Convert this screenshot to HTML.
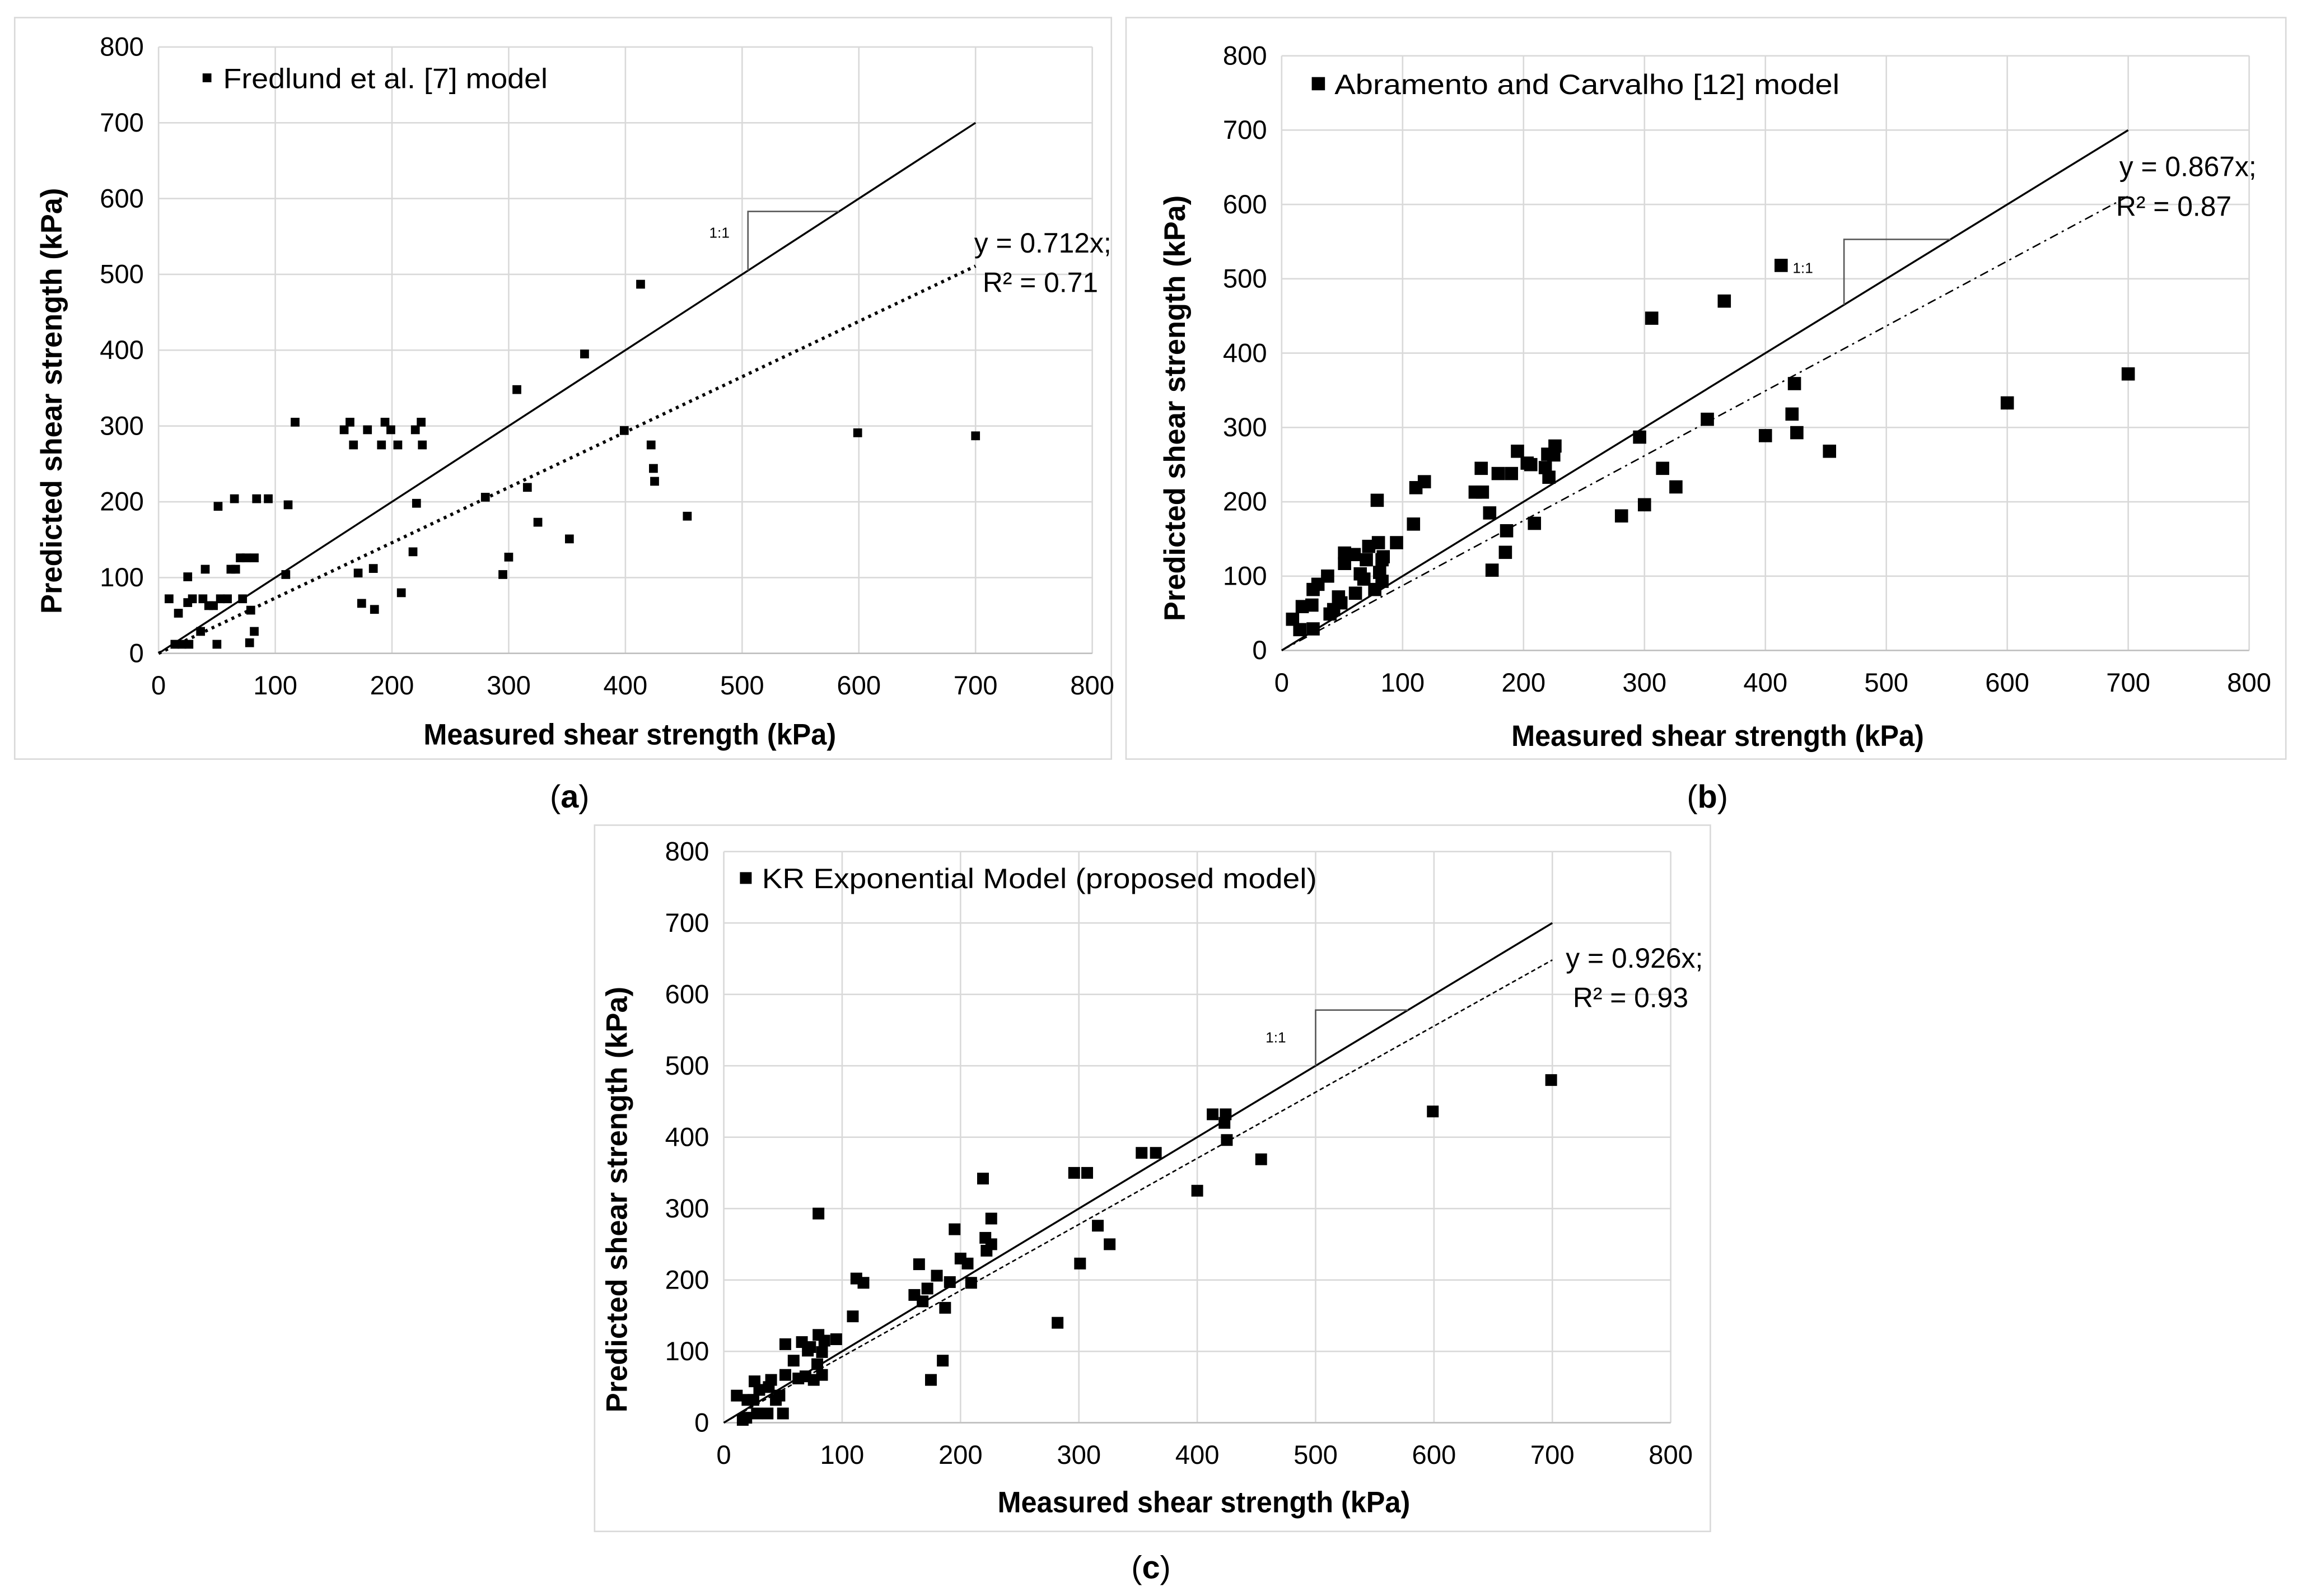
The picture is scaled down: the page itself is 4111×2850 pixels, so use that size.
<!DOCTYPE html>
<html><head><meta charset="utf-8"><style>
html,body{margin:0;padding:0;background:#fff;width:4111px;height:2850px;overflow:hidden}
svg{display:block}
text{font-family:"Liberation Sans",sans-serif;fill:#000}
</style></head><body>
<svg id="fig" width="4111" height="2850" viewBox="0 0 1568 1087" preserveAspectRatio="none" xmlns="http://www.w3.org/2000/svg"></svg>
<script>
const ticks=[0,100,200,300,400,500,600,700,800];
const tickLabels=["0","100","200","300","400","500","600","700","800"];
const aX=[9,17,14,20,26,25,25,29,36,40,38,43,47,50,51,53,59,62,66,65,70,75,82,72,79,78,82,84,94,109,111,117,159,164,167,171,174,179,184,185,191,194,199,205,208,218,220,221,225,226,280,295,300,307,316,325,352,365,399,413,422,424,425,453,599,700];
const aY=[72,53,12,12,12,101,67,72,29,111,72,63,63,12,194,72,72,111,111,204,126,126,126,72,57,14,29,204,204,104,196,305,295,305,275,106,66,295,112,58,275,305,295,275,80,134,295,198,305,275,206,104,127,348,219,173,151,395,294,487,275,244,227,181,291,287];
const bX=[9,17,25,15,26,26,30,38,40,43,47,49,52,52,60,61,65,68,72,70,77,79,80,81,83,84,83,95,109,111,118,160,166,165,172,174,179,185,186,190,195,203,206,209,218,221,220,226,225,281,296,300,306,315,326,352,366,400,413,422,424,426,453,600,700];
const bY=[42,59,61,28,29,82,89,100,49,55,72,64,131,117,129,77,103,96,140,122,82,202,145,105,122,126,93,145,170,219,227,213,213,245,185,108,238,132,161,238,268,252,250,171,246,233,264,275,263,181,287,196,447,245,220,311,470,289,518,318,359,293,268,333,372];
const cX=[11,16,19,20,25,26,28,30,37,40,38,44,47,50,52,52,59,63,66,71,73,69,76,80,79,83,83,85,80,95,109,112,118,161,165,168,172,175,180,185,187,191,195,200,206,209,219,221,222,226,226,282,296,301,307,316,326,353,365,400,413,423,424,425,454,599,699];
const cY=[38,4,7,32,32,58,13,46,13,60,50,32,38,13,110,67,87,62,113,101,106,65,60,123,82,67,99,115,293,117,149,202,196,179,222,170,188,60,206,87,161,197,271,230,223,196,342,259,241,250,286,140,350,223,350,276,250,378,378,325,432,420,432,396,369,436,480];
const slopes=[0.73,0.873,0.926];

const NS="http://www.w3.org/2000/svg";
const svg=document.getElementById('fig');
function mk(tag,at,parent){const e=document.createElementNS(NS,tag);for(const k in at)e.setAttribute(k,at[k]);(parent||svg).appendChild(e);return e;}
function txt(s,at,parent){const e=mk('text',at,parent);e.textContent=s;return e;}

const panels=[
 {id:'a',frame:[10,12,757,517],x0:108,x1:744,y0:445,y1:32,xs:aX,ys:aY,ms:6,leg:"Fredlund et al. [7] model",legW:221,legX:141,legY:53,eq:"y = 0.712x;",r2:"R² = 0.71",eqX:757,eqY:172,r2X:748,tri:[505,78],triLbl:[490,162],dash:"2,3",lbl:[388,550],dashW:2.2,xtX:429,xtY:507,ytY:273},
 {id:'b',frame:[767,12,1557,517],x0:873,x1:1532,y0:443,y1:38,xs:bX,ys:bY,ms:9,leg:"Abramento and Carvalho [12] model",legW:344,legX:898,legY:57,eq:"y = 0.867x;",r2:"R² = 0.87",eqX:1537,eqY:120,r2X:1520,tri:[465,88],triLbl:[1228,186],dash:"6,3,1.5,3",lbl:[1163,550],dashW:1,xtX:1170,xtY:508,ytY:278},
 {id:'c',frame:[405,562,1165,1043],x0:493,x1:1138,y0:969,y1:580,xs:cX,ys:cY,ms:8,leg:"KR Exponential Model (proposed model)",legW:378,legX:508,legY:598,eq:"y = 0.926x;",r2:"R² = 0.93",eqX:1160,eqY:659,r2X:1150,tri:[500,78],triLbl:[869,710],dash:"3,2",lbl:[784,1075],dashW:1,xtX:820,xtY:1030,ytY:817}
];

panels.forEach((p,pi)=>{
 const g=mk('g',{});
 
 
 const fx=v=>p.x0+(p.x1-p.x0)*v/800, fy=v=>p.y0+(p.y1-p.y0)*v/800;
 const fr=mk('rect',{x:p.frame[0],y:p.frame[1],width:p.frame[2]-p.frame[0],height:p.frame[3]-p.frame[1],fill:'#fff',stroke:'#d9d9d9','stroke-width':1},g);
 
 
 ticks.forEach((t,i)=>{
  mk('line',{x1:fx(t),x2:fx(t),y1:fy(0),y2:fy(800),stroke:'#d9d9d9','stroke-width':1},g);
  mk('line',{x1:fx(0),x2:fx(800),y1:fy(t),y2:fy(t),stroke:'#d9d9d9','stroke-width':1},g);
  const yl=txt(tickLabels[i],{x:fx(0)-10,y:fy(t)+6,'text-anchor':'end','font-size':18},g);
  
  
  const xl=txt(tickLabels[i],{x:fx(t),y:fy(0)+28,'text-anchor':'middle','font-size':18},g);
  
  
 });
 mk('line',{x1:fx(0),y1:fy(0),x2:fx(800),y2:fy(0),stroke:'#bfbfbf','stroke-width':1},g);
 const l1=mk('line',{x1:fx(0),y1:fy(0),x2:fx(700),y2:fy(700),stroke:'#000','stroke-width':1.3},g);
 
 
 const tr=mk('line',{x1:fx(0),y1:fy(0),x2:fx(700),y2:fy(700*slopes[pi]),stroke:'#000','stroke-width':p.dashW,'stroke-dasharray':p.dash},g);
 
 
 const [tx,td]=p.tri;
 const tri=mk('polyline',{points:`${fx(tx)},${fy(tx)} ${fx(tx)},${fy(tx+td)} ${fx(tx+td)},${fy(tx+td)}`,fill:'none',stroke:'#595959','stroke-width':1},g);
 
 
 const tl=txt('1:1',{x:p.triLbl[0],y:p.triLbl[1],'font-size':10,'text-anchor':'middle'},g);
 
 
 p.xs.forEach((xv,i)=>{
  const r=mk('rect',{x:fx(xv)-p.ms/2,y:fy(p.ys[i])-p.ms/2,width:p.ms,height:p.ms,fill:'#000'},g);
  
  
 });
 const lm=mk('rect',{x:p.legX-p.ms/2,y:p.legY-p.ms/2,width:p.ms,height:p.ms,fill:'#000'},g);
 
 
 const lt=txt(p.leg,{x:p.legX+11,y:p.legY+7,'font-size':19,textLength:p.legW,lengthAdjust:'spacingAndGlyphs'},g);
 
 
 const e1=txt(p.eq,{x:p.eqX,y:p.eqY,'font-size':19,'text-anchor':'end'},g);
 
 
 const e2=txt(p.r2,{x:p.r2X,y:p.eqY+27,'font-size':19,'text-anchor':'end'},g);
 
 
 const xt=txt('Measured shear strength (kPa)',{x:p.xtX,y:p.xtY,'font-size':20,'font-weight':'bold','text-anchor':'middle',textLength:281,lengthAdjust:'spacingAndGlyphs'},g);
 
 
 const cy=p.ytY, cx=fx(0)-66;
 const yt=txt('Predicted shear strength (kPa)',{x:cx,y:cy,'font-size':20,'font-weight':'bold','text-anchor':'middle',textLength:290,lengthAdjust:'spacingAndGlyphs',transform:`rotate(-90 ${cx} ${cy})`},g);
 
 
 const pl=mk('text',{x:p.lbl[0],y:p.lbl[1],'font-size':22,'text-anchor':'middle','font-family':'Liberation Serif, serif'},g);
 pl.textContent='('; const b=mk('tspan',{'font-weight':'bold'},pl); b.textContent=p.id; pl.appendChild(document.createTextNode(')'));
 
 
});
</script>
</body></html>
